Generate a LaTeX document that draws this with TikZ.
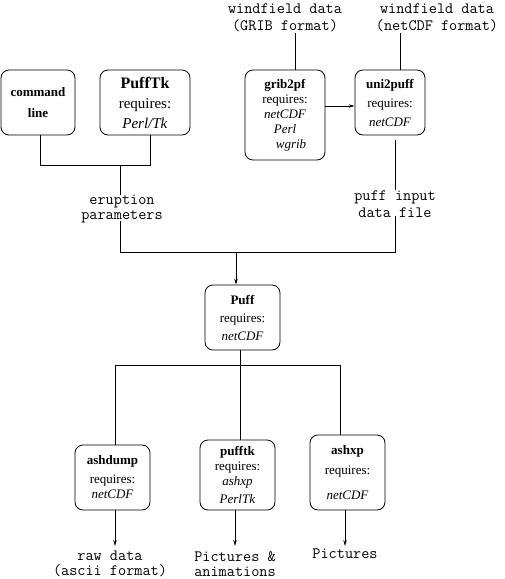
\documentclass[tikz,border=0pt]{standalone}
\usepackage{fontspec}
\setmainfont{Liberation Serif}
\usetikzlibrary{arrows.meta}
\begin{document}
\begin{tikzpicture}[x=1pt,y=-1pt,
 box/.style={draw, rounded corners=8pt, align=center, inner sep=0pt, line width=0.8pt,
   font=\fontsize{13}{15}\selectfont},
 lbl/.style={align=center, inner sep=0pt, font=\ttfamily\fontsize{15.8}{15}\selectfont},
 conn/.style={line width=0.8pt},
 arr/.style={conn, -{Stealth[length=6pt,width=3.5pt]}}]
\useasboundingbox (0,0) rectangle (505,579);

% top row boxes
\node[box, minimum width=74pt, minimum height=65pt] (cmd) at (38,102.5)
  {\textbf{command}\\[6pt]\textbf{line}};
\node[box, minimum width=90pt, minimum height=65pt, font=\fontsize{15}{20}\selectfont] (ptk) at (145,102.5)
  {{\fontsize{16}{20}\selectfont\textbf{PuffTk}}\\requires:\\\textit{Perl/Tk}};
\node[box, minimum width=80pt, minimum height=90pt] (grib) at (285,115)
  {\textbf{grib2pf}\\requires:\\\textit{netCDF}\\\textit{Perl}\\\hspace*{12pt}\textit{wgrib}};
\node[box, minimum width=70pt, minimum height=65pt, font=\fontsize{13}{19}\selectfont] (uni) at (390,102.5)
  {\textbf{uni2puff}\\requires:\\\textit{netCDF}};

% windfield labels
\node[lbl, font=\ttfamily\fontsize{15.8}{17}\selectfont] (wg) at (285,17.5) {windfield data\\(GRIB format)};
\node[lbl, font=\ttfamily\fontsize{15.8}{17}\selectfont] (wn) at (437,17.5) {windfield data\\(netCDF format)};

% intermediate labels
\node[lbl] (erupt) at (122,209) {eruption\\parameters};
\node[lbl, font=\ttfamily\fontsize{15.8}{17}\selectfont] (pin) at (395,204) {puff input\\data file};

% Puff
\node[box, minimum width=75pt, minimum height=65pt, font=\fontsize{13}{18}\selectfont] (puff) at (242.5,317.5)
  {\textbf{Puff}\\requires:\\\textit{netCDF}};

% bottom boxes
\node[box, minimum width=75pt, minimum height=65pt] (ashd) at (112.5,477.5)
  {\textbf{ashdump}\\[4pt]requires:\\\textit{netCDF}};
\node[box, minimum width=75pt, minimum height=70pt] (pftk) at (237.5,475)
  {\textbf{pufftk}\\requires:\\\textit{ashxp}\\[3pt]\textit{PerlTk}};
\node[box, minimum width=75pt, minimum height=75pt] (ashx) at (347.5,472.5)
  {\textbf{ashxp}\\[5pt]requires:\\[10pt]\textit{netCDF}};

% output labels
\node[lbl] (raw) at (110,564) {raw data\\(ascii format)};
\node[lbl] (pics) at (235,564) {Pictures \&\\animations};
\node[lbl, anchor=north] (pic2) at (345,549) {Pictures};

% junction coordinates
\coordinate (j1) at (120,165);
\coordinate (j2) at (236,252);
\coordinate (j3) at (240,365);

% connectors top
\draw[conn] ([xshift=2pt]cmd.south) |- (j1);
\draw[conn] ([xshift=5pt]ptk.south) |- (j1);
\draw[conn] (j1) -- (j1 |- erupt.north);
\draw[conn] ([yshift=2pt]j1 |- erupt.south) |- (j2);
\draw[conn] ([xshift=10pt]grib.north) -- ([xshift=10pt,yshift=-1pt]grib.north |- wg.south) ;
\draw[conn] ([xshift=10pt]uni.north) -- ([xshift=10pt,yshift=-1pt]uni.north |- wn.south);
\draw[arr] (grib.east |- 0,106) -- (uni.west |- 0,106);
\draw[conn] ([xshift=5pt,yshift=-5pt]uni.south) -- ([xshift=5pt]uni.south |- pin.north);
\draw[conn] ([yshift=2pt]pin.south) |- (j2);
\draw[arr] (j2) -- (j2 |- puff.north);

% connectors bottom
\draw[conn] ([xshift=-2.5pt]puff.south) -- (j3);
\draw[conn] (j3) -| ([xshift=2.5pt]ashd.north);
\draw[conn] (j3) -| ([xshift=2.5pt]pftk.north);
\draw[conn] (j3) -| ([xshift=-7.5pt]ashx.north);
\draw[arr] ([xshift=2.5pt]ashd.south) -- ([xshift=2.5pt]ashd.south |- 0,546);
\draw[arr] ([xshift=-2.5pt]pftk.south) -- ([xshift=-2.5pt]pftk.south |- 0,546);
\draw[arr] ([xshift=-2.5pt]ashx.south) -- ([xshift=-2.5pt]ashx.south |- 0,546);
\end{tikzpicture}
\end{document}
